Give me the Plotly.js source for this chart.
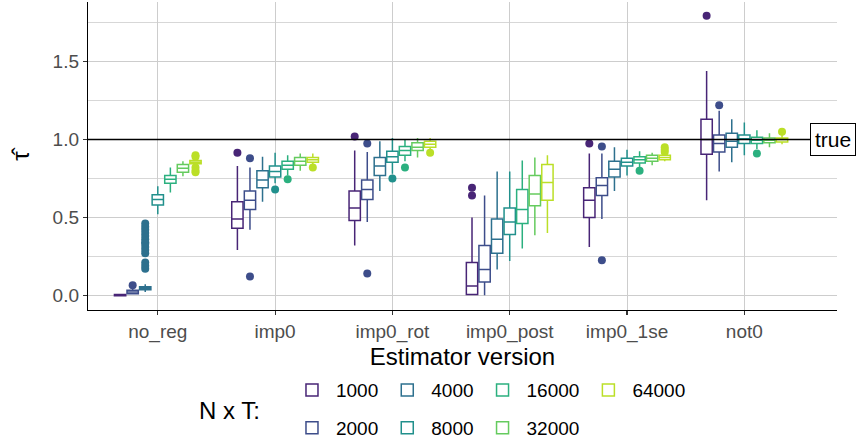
<!DOCTYPE html>
<html><head><meta charset="utf-8">
<script src="https://cdn.plot.ly/plotly-3.0.1.min.js"></script>
<style>html,body{margin:0;padding:0;background:#fff}#chart{width:862px;height:444px}</style>
</head><body><div id="chart"></div>
<script>
// Estimator versions (x categories) and N x T groups
const estimators = ['no_reg', 'imp0', 'imp0_rot', 'imp0_post', 'imp0_1se', 'not0'];
const sampleSizes = ['1000', '2000', '4000', '8000', '16000', '32000', '64000'];
const trueValue = 1;

// Box statistics per N x T group (rows) for each estimator (columns)
const lowerWhisker = [
  [-0.006, 0.29, 0.32, 0.0, 0.31, 0.61],
  [0.004, 0.42, 0.47, 0.0, 0.49, 0.795],
  [0.02, 0.60, 0.67, 0.165, 0.67, 0.855],
  [0.52, 0.72, 0.78, 0.22, 0.77, 0.90],
  [0.66, 0.77, 0.86, 0.30, 0.82, 0.94],
  [0.765, 0.80, 0.885, 0.385, 0.835, 0.95],
  [0.83, 0.84, 0.94, 0.40, 0.86, 0.97]
];
const quartile1 = [
  [-0.004, 0.43, 0.48, 0.005, 0.50, 0.905],
  [0.01, 0.55, 0.615, 0.085, 0.64, 0.92],
  [0.035, 0.69, 0.77, 0.27, 0.76, 0.95],
  [0.58, 0.76, 0.855, 0.39, 0.83, 0.975],
  [0.72, 0.81, 0.90, 0.46, 0.85, 0.975],
  [0.79, 0.835, 0.93, 0.575, 0.86, 0.98],
  [0.845, 0.855, 0.95, 0.61, 0.87, 0.985]
];
const medians = [
  [0.0, 0.49, 0.56, 0.06, 0.61, 1.0],
  [0.02, 0.61, 0.68, 0.165, 0.705, 0.975],
  [0.045, 0.74, 0.83, 0.36, 0.81, 0.99],
  [0.615, 0.795, 0.89, 0.47, 0.855, 1.005],
  [0.745, 0.835, 0.93, 0.55, 0.87, 0.995],
  [0.815, 0.86, 0.95, 0.65, 0.88, 0.995],
  [0.855, 0.87, 0.97, 0.725, 0.885, 1.0]
];
const quartile3 = [
  [0.004, 0.60, 0.67, 0.21, 0.69, 1.13],
  [0.032, 0.67, 0.74, 0.32, 0.755, 1.03],
  [0.055, 0.80, 0.885, 0.49, 0.86, 1.04],
  [0.645, 0.83, 0.925, 0.56, 0.88, 1.03],
  [0.77, 0.86, 0.955, 0.68, 0.89, 1.015],
  [0.84, 0.885, 0.98, 0.77, 0.90, 1.01],
  [0.865, 0.885, 0.99, 0.84, 0.90, 1.01]
];
const upperWhisker = [
  [0.006, 0.83, 0.93, 0.50, 0.91, 1.44],
  [0.04, 0.82, 0.92, 0.64, 0.91, 1.185],
  [0.07, 0.89, 0.99, 0.795, 0.95, 1.13],
  [0.70, 0.915, 1.01, 0.795, 0.935, 1.11],
  [0.82, 0.90, 1.0, 0.865, 0.925, 1.06],
  [0.86, 0.91, 1.01, 0.885, 0.915, 1.04],
  [0.88, 0.91, 1.01, 0.90, 0.915, 1.03]
];
const outliers = [
  [[], [0.915], [1.02], [0.69, 0.64], [0.975], [1.795]],
  [[0.064], [0.88, 0.12], [0.975, 0.14], [], [0.955, 0.225], [1.22]],
  [[0.46, 0.44, 0.42, 0.40, 0.38, 0.36, 0.34, 0.33, 0.31, 0.29, 0.27, 0.21, 0.19, 0.17], [], [], [], [], []],
  [[], [0.68], [0.75], [], [], []],
  [[], [0.745], [0.82], [], [0.80], [0.91]],
  [[], [], [], [], [], []],
  [[0.90, 0.89, 0.82, 0.80, 0.79], [0.82], [0.915], [], [0.95, 0.935, 0.92], [1.05, 1.025]]
];

const colors = ['#482576', '#3D4D8A', '#2D708E', '#21908C', '#2BB07F', '#65CB5E', '#BBDF27'];
const legendRow = ['legend', 'legend2', 'legend', 'legend2', 'legend', 'legend2', 'legend'];

const FONT = 'Liberation Sans, Arial, Helvetica, sans-serif';

const traces = sampleSizes.map((s, k) => ({
  type: 'box',
  orientation: 'v',
  name: s,
  x: estimators,
  q1: quartile1[k],
  median: medians[k],
  q3: quartile3[k],
  lowerfence: lowerWhisker[k],
  upperfence: upperWhisker[k],
  // empty outlier lists padded with a null so every box keeps a sample row
  y: outliers[k].map(a => (a.length ? a : [null])),
  boxpoints: 'outliers',
  jitter: 0,
  pointpos: 0,
  whiskerwidth: 0,
  fillcolor: 'white',
  line: {color: colors[k], width: 1.5},
  marker: {color: colors[k], size: 8, line: {width: 0}},
  legend: legendRow[k],
  hoverinfo: 'skip'
}));

const gridColor = '#cdcdcd';

const legendBase = {
  orientation: 'h', x: 0.267, xanchor: 'left', yanchor: 'middle',
  font: {family: FONT, size: 19, color: '#000'}, bgcolor: 'rgba(0,0,0,0)', itemwidth: 38,
  traceorder: 'normal'
};

const layout = {
  width: 862, height: 444,
  margin: {l: 88, r: 25, t: 2, b: 134, autoexpand: false},
  paper_bgcolor: 'white', plot_bgcolor: 'white',
  font: {family: FONT, color: '#000'},
  boxmode: 'group',
  boxgap: 0.25,
  boxgroupgap: 0.1,
  showlegend: true,
  xaxis: {
    type: 'category',
    range: [-0.595, 5.79],
    showline: true, linecolor: '#000', linewidth: 1.2,
    showgrid: true, gridcolor: gridColor, gridwidth: 1,
    ticks: 'outside', ticklen: 4, tickcolor: '#333', tickwidth: 1.2,
    tickfont: {family: FONT, size: 19, color: '#4d4d4d'},
    title: {text: 'Estimator version', font: {family: FONT, size: 24, color: '#000'}, standoff: 4},
    zeroline: false, fixedrange: true
  },
  yaxis: {
    range: [-0.095, 1.884],
    showline: true, linecolor: '#000', linewidth: 1.2,
    showgrid: true, gridcolor: gridColor, gridwidth: 1,
    minor: {dtick: 0.25, showgrid: true, gridcolor: gridColor, gridwidth: 0.8, ticks: ''},
    dtick: 0.5, tick0: 0, tickformat: '.1f',
    ticks: 'outside', ticklen: 4, tickcolor: '#333', tickwidth: 1.2,
    tickfont: {family: FONT, size: 19, color: '#4d4d4d'},
    title: {text: 'τ̂', font: {family: FONT, size: 24, color: '#000'}, standoff: 16},
    zeroline: false, fixedrange: true
  },
  legend: Object.assign({}, legendBase, {y: -0.26}),
  legend2: Object.assign({}, legendBase, {y: -0.383}),
  shapes: [{
    type: 'line', xref: 'paper', x0: 0, x1: 1, yref: 'y', y0: trueValue, y1: trueValue,
    line: {color: '#000', width: 1.5}, layer: 'above'
  }],
  annotations: [
    {
      text: 'true', xref: 'paper', x: 0.964, xanchor: 'left', yref: 'y', y: trueValue, yanchor: 'middle',
      showarrow: false, font: {family: FONT, size: 21, color: '#000'},
      bgcolor: 'white', bordercolor: '#000', borderwidth: 1, borderpad: 4
    },
    {
      text: 'N x T:', xref: 'paper', x: 0.1455, xanchor: 'left', yref: 'paper', y: -0.325, yanchor: 'middle',
      showarrow: false, font: {family: FONT, size: 24, color: '#000'}
    }
  ]
};

Plotly.newPlot('chart', traces, layout, {displayModeBar: false, staticPlot: true});
</script>
</body></html>
